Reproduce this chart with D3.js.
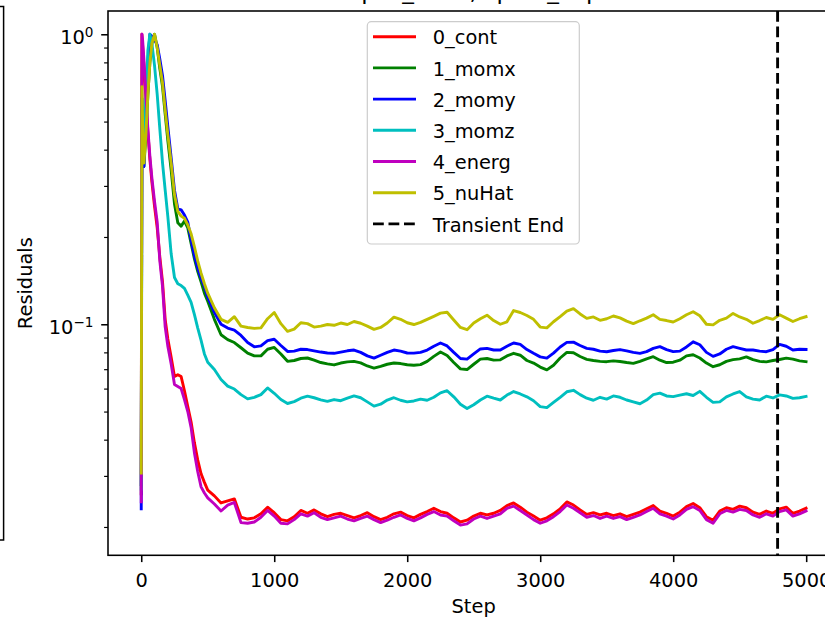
<!DOCTYPE html>
<html><head><meta charset="utf-8">
<script src="https://cdn.jsdelivr.net/npm/d3@7"></script>
<style>body{margin:0;background:#fff;} svg{display:block;font-family:"DejaVu Sans",sans-serif;}</style>
</head><body>
<svg id="c" width="825" height="621"></svg>
<script>
// ---------- DATA ----------
const steps = [0,5,10,20,35,50,65,80,100,120,140,160,180,200,225,250,275,300,325,350,375,400,425,450,475,500,
 550,600,650,700,750,800,850,900,950,1000,
 1050,1100,1150,1200,1250,1300,1350,1400,1450,1500,
 1550,1600,1650,1700,1750,1800,1850,1900,1950,2000,
 2050,2100,2150,2200,2250,2300,2350,2400,2450,2500,
 2550,2600,2650,2700,2750,2800,2850,2900,2950,3000,
 3050,3100,3150,3200,3250,3300,3350,3400,3450,3500,
 3550,3600,3650,3700,3750,3800,3850,3900,3950,4000,
 4050,4100,4150,4200,4250,4300,4350,4400,4450,4500,
 4550,4600,4650,4700,4750,4800,4850,4900,4950,4999];

const cont = [0.026,1.0,0.92,0.78,0.6,0.46,0.37,0.31,0.255,0.215,0.17,0.14,0.104,0.089,0.077,0.066,0.067,0.066,0.059,0.052,0.046,0.039,0.034,0.0305,0.0285,0.0268,
 0.0256,0.0242,0.0246,0.0250,0.0216,0.0213,0.0215,0.0222,0.0234,0.0224,
 0.0212,0.0210,0.0217,0.0228,0.0223,0.0229,0.0222,0.0217,0.0221,0.0223,
 0.0219,0.0215,0.0219,0.0224,0.0217,0.0212,0.0216,0.0222,0.0225,0.0219,
 0.0215,0.0221,0.0226,0.0232,0.0226,0.0223,0.0215,0.0208,0.0211,0.0218,
 0.0223,0.0220,0.0223,0.0228,0.0237,0.0242,0.0234,0.0225,0.0218,0.0211,
 0.0215,0.0222,0.0231,0.0244,0.0238,0.0229,0.0221,0.0224,0.0220,0.0223,
 0.0219,0.0222,0.0217,0.0221,0.0225,0.0231,0.0237,0.0227,0.0223,0.0218,
 0.0225,0.0235,0.0241,0.0233,0.0217,0.0211,0.0227,0.0233,0.0230,0.0236,
 0.0233,0.0225,0.0221,0.0227,0.0223,0.0231,0.0234,0.0223,0.0227,0.0232];

const momx = [0.028,0.6,0.48,0.35,0.45,0.62,0.8,0.93,1.0,0.9,0.76,0.66,0.53,0.43,0.34,0.26,0.224,0.218,0.227,0.215,0.19,0.168,0.152,0.14,0.128,0.12,
 0.104,0.092,0.0885,0.0865,0.083,0.0795,0.0778,0.0778,0.082,0.0832,
 0.079,0.0745,0.0750,0.0762,0.0765,0.0752,0.0738,0.0730,0.0724,0.0735,
 0.0742,0.0745,0.0736,0.0718,0.0706,0.0716,0.0728,0.0735,0.0732,0.0725,
 0.0722,0.0726,0.0745,0.0775,0.0802,0.0780,0.0738,0.0702,0.0698,0.0728,
 0.0758,0.0762,0.0752,0.0754,0.0778,0.0794,0.0782,0.0750,0.0735,0.0712,
 0.0696,0.0722,0.0765,0.0800,0.0798,0.0774,0.0757,0.0750,0.0745,0.0743,
 0.0748,0.0744,0.0738,0.0733,0.0745,0.0760,0.0773,0.0752,0.0738,0.0740,
 0.0752,0.0778,0.0785,0.0765,0.0735,0.0714,0.0725,0.0745,0.0755,0.0760,
 0.0772,0.0755,0.0745,0.0742,0.0750,0.0756,0.0764,0.0758,0.0748,0.0743];

const momy = [0.0231,0.55,0.45,0.35,0.55,0.8,1.0,0.985,0.955,0.92,0.82,0.72,0.59,0.48,0.375,0.29,0.25,0.248,0.238,0.225,0.195,0.172,0.156,0.144,0.135,0.124,
 0.110,0.100,0.097,0.0955,0.0915,0.0865,0.0836,0.0842,0.0878,0.0888,
 0.0845,0.0806,0.0808,0.0820,0.0818,0.0810,0.0802,0.0796,0.0794,0.0802,
 0.0810,0.0815,0.0800,0.0778,0.0764,0.0782,0.0800,0.0815,0.0808,0.0796,
 0.0795,0.0800,0.0815,0.0840,0.0862,0.0842,0.0800,0.0762,0.0758,0.0790,
 0.0822,0.0826,0.0815,0.0815,0.0840,0.0862,0.0852,0.0818,0.0794,0.0772,
 0.0764,0.0795,0.0835,0.0866,0.0868,0.0845,0.0826,0.0820,0.0808,0.0804,
 0.0812,0.0818,0.0810,0.0800,0.0794,0.0805,0.0826,0.0837,0.0818,0.0805,
 0.0808,0.0835,0.0870,0.0850,0.0800,0.0775,0.0790,0.0820,0.0837,0.0826,
 0.0815,0.0815,0.0808,0.0804,0.0818,0.0852,0.0840,0.0815,0.0820,0.0819];

const momz = [0.027,0.6,0.5,0.42,0.6,0.88,1.0,0.93,0.78,0.62,0.47,0.36,0.29,0.235,0.175,0.145,0.138,0.136,0.133,0.126,0.119,0.108,0.097,0.088,0.079,0.074,
 0.0698,0.0645,0.0612,0.0598,0.0572,0.0553,0.0560,0.0572,0.0603,0.0578,
 0.0550,0.0533,0.0541,0.0556,0.0565,0.0558,0.0549,0.0542,0.0550,0.0545,
 0.0556,0.0566,0.0558,0.0540,0.0522,0.0530,0.0548,0.0558,0.0547,0.0540,
 0.0544,0.0552,0.0547,0.0560,0.0580,0.0590,0.0562,0.0530,0.0512,0.0528,
 0.0548,0.0565,0.0556,0.0548,0.0570,0.0586,0.0575,0.0562,0.0545,0.0520,
 0.0516,0.0538,0.0560,0.0585,0.0592,0.0572,0.0556,0.0547,0.0560,0.0552,
 0.0566,0.0560,0.0548,0.0540,0.0532,0.0548,0.0572,0.0579,0.0566,0.0563,
 0.0570,0.0576,0.0568,0.0587,0.0560,0.0538,0.0540,0.0562,0.0575,0.0586,
 0.0562,0.0552,0.0548,0.0565,0.0557,0.0571,0.0566,0.0555,0.0558,0.0564];

const energ = [0.0244,1.0,0.96,0.82,0.62,0.47,0.38,0.32,0.265,0.225,0.165,0.135,0.098,0.084,0.073,0.062,0.061,0.060,0.055,0.050,0.044,0.036,0.031,0.0275,0.0262,0.0252,
 0.0240,0.0227,0.0238,0.0243,0.0207,0.0206,0.0208,0.0216,0.0228,0.0218,
 0.0206,0.0205,0.0212,0.0222,0.0218,0.0224,0.0216,0.0212,0.0215,0.0218,
 0.0213,0.0210,0.0214,0.0218,0.0212,0.0207,0.0211,0.0216,0.0220,0.0214,
 0.0210,0.0215,0.0221,0.0226,0.0220,0.0218,0.0210,0.0203,0.0205,0.0213,
 0.0218,0.0214,0.0218,0.0222,0.0232,0.0236,0.0228,0.0220,0.0212,0.0206,
 0.0210,0.0217,0.0226,0.0238,0.0232,0.0224,0.0216,0.0219,0.0214,0.0218,
 0.0214,0.0217,0.0212,0.0216,0.0220,0.0226,0.0232,0.0222,0.0218,0.0213,
 0.0220,0.0230,0.0235,0.0228,0.0212,0.0206,0.0222,0.0228,0.0225,0.0230,
 0.0228,0.0220,0.0216,0.0222,0.0218,0.0226,0.0229,0.0218,0.0222,0.0227];

const nuHat = [0.0307,0.66,0.5,0.36,0.45,0.62,0.8,0.93,1.0,0.9,0.78,0.68,0.55,0.45,0.36,0.28,0.245,0.236,0.232,0.22,0.205,0.185,0.165,0.15,0.138,0.128,
 0.114,0.104,0.1015,0.1062,0.0985,0.0975,0.0968,0.0972,0.1045,0.1098,
 0.1005,0.0945,0.0962,0.1012,0.1005,0.0978,0.0985,0.0998,0.0992,0.1010,
 0.0998,0.1022,0.1008,0.0985,0.0960,0.0975,0.1010,0.1058,0.1040,0.1012,
 0.0998,0.1015,0.1040,0.1065,0.1092,0.1100,0.1035,0.0975,0.0958,0.1010,
 0.1045,0.1075,0.1030,0.1000,0.1020,0.1115,0.1098,0.1072,0.1040,0.0978,
 0.0972,0.1020,0.1062,0.1110,0.1132,0.1085,0.1048,0.1060,0.1032,0.1045,
 0.1068,0.1052,0.1025,0.1005,0.1028,0.1050,0.1078,0.1040,0.1030,0.1018,
 0.1045,0.1078,0.1105,0.1070,0.1000,0.0995,0.1032,0.1050,0.1090,0.1060,
 0.1040,0.1008,0.1030,0.1055,0.1040,0.1078,0.1050,0.1022,0.1045,0.1062];

const seriesNames = ["0_cont","1_momx","2_momy","3_momz","4_energ","5_nuHat"];
const seriesValues = [cont, momx, momy, momz, energ, nuHat];
const seriesColors = ["#ff0000","#008000","#0000ff","#00bfbf","#bf00bf","#bfbf00"];
const transientEnd = 4785;
const transientLabel = "Transient End";
const xTicks = [0,1000,2000,3000,4000,5000];
const yMajorTicks = [1, 0.1];
const yMajorExp = ["0","\u22121"];
const yMinorTicks = [0.02,0.03,0.04,0.05,0.06,0.07,0.08,0.09,0.2,0.3,0.4,0.5,0.6,0.7,0.8,0.9];
const xDomain = [-249.95, 5248.95];
const yDomain = [0.01597, 1.203];
const titleText = "Epos_base, spin1_cap";
const xLabel = "Step", yLabel = "Residuals";

// ---------- LAYOUT ----------
const P = {left:108, right:839.3, top:11, bottom:555.3};
const FS = 19.4;
const svg = d3.select("#c");
const x = d3.scaleLinear().domain(xDomain).range([P.left, P.right]);
const y = d3.scaleLog().domain(yDomain).range([P.bottom, P.top]);

// outside neighbouring box (partially visible at left edge)
svg.append("rect").attr("x",-60).attr("y",6.5).attr("width",63.6).attr("height",533.5)
  .attr("fill","none").attr("stroke","#000").attr("stroke-width",1.5);

svg.append("defs").append("clipPath").attr("id","clip").append("rect")
  .attr("x",P.left).attr("y",P.top).attr("width",P.right-P.left).attr("height",P.bottom-P.top);

const g = svg.append("g").attr("clip-path","url(#clip)");
const line = d3.line().x(d=>x(d[0])).y(d=>y(d[1]));
seriesValues.forEach((vals,i)=>{
  const n = Math.min(vals.length, steps.length);
  const pts = d3.range(n).map(k=>[steps[k], vals[k]]);
  g.append("path").attr("d", line(pts)).attr("fill","none")
    .attr("stroke", seriesColors[i]).attr("stroke-width",2.9)
    .attr("stroke-linejoin","round").attr("stroke-linecap","square");
});
g.append("line").attr("x1",x(transientEnd)).attr("x2",x(transientEnd))
  .attr("y1",P.top).attr("y2",P.bottom).attr("stroke","#000")
  .attr("stroke-width",2.9).attr("stroke-dasharray","10.8,4.7");

// frame
svg.append("rect").attr("x",P.left).attr("y",P.top).attr("width",P.right-P.left).attr("height",P.bottom-P.top)
  .attr("fill","none").attr("stroke","#000").attr("stroke-width",1.56);

// x axis
const xa = svg.append("g").attr("transform",`translate(0,${P.bottom})`)
  .call(d3.axisBottom(x).tickValues(xTicks).tickSize(6.8).tickPadding(6.8).tickFormat(d3.format("d")));
xa.select(".domain").remove();
xa.selectAll(".tick line").attr("stroke","#000").attr("stroke-width",1.56);
xa.selectAll(".tick text").attr("font-size",FS).attr("font-family","DejaVu Sans").attr("fill","#000")
  .attr("y",null).attr("dy",null).attr("transform",null).each(function(){ d3.select(this).attr("y", 587-P.bottom); });

// y axis major
const ya = svg.append("g").attr("transform",`translate(${P.left},0)`)
  .call(d3.axisLeft(y).tickValues(yMajorTicks).tickSize(6.8).tickFormat(""));
ya.select(".domain").remove();
ya.selectAll(".tick line").attr("stroke","#000").attr("stroke-width",1.56);
const ym = svg.append("g").attr("transform",`translate(${P.left},0)`)
  .call(d3.axisLeft(y).tickValues(yMinorTicks).tickSize(3.9).tickFormat(""));
ym.select(".domain").remove();
ym.selectAll(".tick line").attr("stroke","#000").attr("stroke-width",1.17);

yMajorTicks.forEach((v,i)=>{
  const t = svg.append("text").attr("x",93.5).attr("y",y(v)+10.2).attr("text-anchor","end")
    .attr("font-size",FS).attr("fill","#000");
  t.append("tspan").text("10");
  t.append("tspan").attr("dy",-7.2).attr("font-size",FS*0.7).text(yMajorExp[i]);
});

// labels
svg.append("text").attr("x",(P.left+P.right)/2).attr("y",613).attr("text-anchor","middle")
  .attr("font-size",FS).attr("fill","#000").text(xLabel);
svg.append("text").attr("transform",`translate(32,${(P.top+P.bottom)/2}) rotate(-90)`)
  .attr("text-anchor","middle").attr("font-size",FS).attr("fill","#000").text(yLabel);
svg.append("text").attr("x",(P.left+P.right)/2).attr("y",-0.8).attr("text-anchor","middle")
  .attr("font-size",23.3).attr("fill","#000").text(titleText);

// legend
const L = svg.append("g");
L.append("rect").attr("x",367.3).attr("y",21.7).attr("width",212).attr("height",222.3)
  .attr("rx",4).attr("fill","#fff").attr("fill-opacity",0.8).attr("stroke","#cccccc").attr("stroke-width",1.2);
const legendItems = seriesNames.map((n,i)=>({name:n,color:seriesColors[i],dash:null}))
  .concat([{name:transientLabel,color:"#000",dash:"10.8,4.7"}]);
legendItems.forEach((it,i)=>{
  const cy = 36.7 + i*31.2;
  L.append("line").attr("x1",373).attr("x2",416).attr("y1",cy).attr("y2",cy)
    .attr("stroke",it.color).attr("stroke-width",2.9).attr("stroke-dasharray",it.dash);
  L.append("text").attr("x",432.7).attr("y",cy+7.6).attr("font-size",FS).attr("fill","#000").text(it.name);
});
</script>
</body></html>
